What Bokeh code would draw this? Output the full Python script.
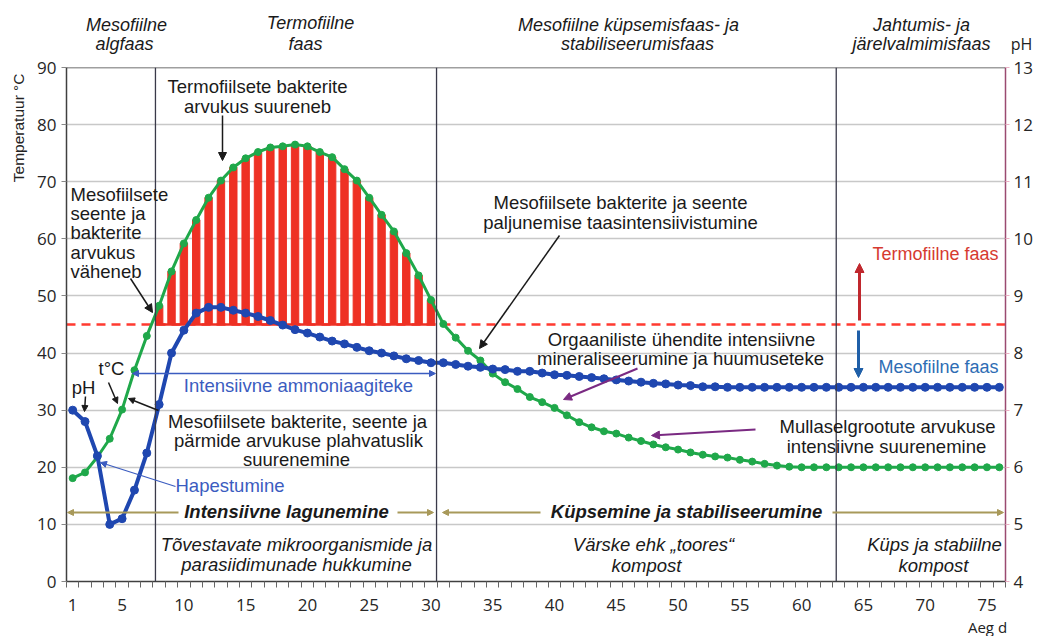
from bokeh.plotting import figure
from bokeh.models import Range1d, LinearAxis, FixedTicker, Label, Arrow, NormalHead, Span
from bokeh.layouts import column, row
from bokeh.core.properties import value
from bokeh.embed import file_html
from bokeh.resources import INLINE
import math

# ---------------- data ----------------
days = list(range(1, 77))
temperature = [18.1, 19.1, 21.8, 25.0, 30.1, 37.0, 43.0, 48.3, 54.3, 59.2,
               63.3, 67.2, 70.2, 72.5, 74.1, 75.2, 76.0, 76.2, 76.5, 76.2,
               75.2, 74.3, 72.2, 70.2, 67.2, 64.2, 61.3, 57.5, 53.6, 49.3,
               45.1, 42.7, 40.4, 38.7, 36.4, 34.9, 33.7, 32.3, 31.4, 30.4,
               29.1, 27.9, 27.0, 26.3, 25.9, 25.2, 24.6, 24.0, 23.5, 23.1,
               22.6, 22.2, 21.9, 21.7, 21.3, 21.0, 20.6, 20.3, 20.1, 20.0,
               20.0, 20.0, 20.0, 20.0, 20.0, 20.0, 20.0, 20.0, 20.0, 20.0,
               20.0, 20.0, 20.0, 20.0, 20.0, 20.0]
ph = [7.0, 6.8, 6.2, 5.0, 5.1, 5.6, 6.25, 7.1, 8.0, 8.4,
      8.7, 8.8, 8.8, 8.75, 8.7, 8.64, 8.57, 8.49, 8.41, 8.35,
      8.28, 8.21, 8.16, 8.10, 8.04, 8.0, 7.95, 7.9, 7.87, 7.83,
      7.83, 7.8, 7.77, 7.75, 7.72, 7.71, 7.68, 7.68, 7.65, 7.62,
      7.61, 7.59, 7.57, 7.55, 7.53, 7.51, 7.49, 7.47, 7.46, 7.44,
      7.43, 7.41, 7.41, 7.4, 7.4, 7.4, 7.4, 7.4, 7.4, 7.4,
      7.4, 7.4, 7.4, 7.4, 7.4, 7.4, 7.4, 7.4, 7.4, 7.4,
      7.4, 7.4, 7.4, 7.4, 7.4, 7.4]
thermo_first_day = 8
thermo_last_day = 30
threshold = 45
phase_bounds = [7.7, 30.45, 62.8]
x_ticks = [1, 5, 10, 15, 20, 25, 30, 35, 40, 45, 50, 55, 60, 65, 70, 75]
temp_ticks = [0, 10, 20, 30, 40, 50, 60, 70, 80, 90]
ph_ticks = [4, 5, 6, 7, 8, 9, 10, 11, 12, 13]

header_texts = ["Mesofiilne", "algfaas", "Termofiilne", "faas",
                "Mesofiilne küpsemisfaas- ja", "stabiliseerumisfaas",
                "Jahtumis- ja", "järelvalmimisfaas"]

bar_days = [d for d in days if thermo_first_day <= d <= thermo_last_day]
bar_tops = [t for d, t in zip(days, temperature) if thermo_first_day <= d <= thermo_last_day]

# ---------------- geometry (page px) ----------------
W = 1040
HEAD_H = 54
MAIN_BOTTOM = 616
TOTAL_H = 636
MAIN_H = MAIN_BOTTOM - HEAD_H
FOOT_H = TOTAL_H - MAIN_BOTTOM
LEFT_W = 34
FL, FR, FT, FB = 66, 1005, 67, 581     # plot frame in page px

def X(xp):
    return 0.5 + (xp - FL) * 76.0 / (FR - FL)
def Y(yp):
    return (FB - yp) * 90.0 / (FB - FT)

TICK_FONT = "Open Sans"
TXT = "Liberation Sans"
INK = "#1a1a1a"

def blank(width, height, x0, x1, y0, y1):
    f = figure(width=width, height=height, x_range=Range1d(x0, x1), y_range=Range1d(y1, y0),
               output_backend="svg", toolbar_location=None,
               min_border_left=0, min_border_right=0, min_border_top=0, min_border_bottom=0)
    f.axis.visible = False
    f.grid.visible = False
    f.outline_line_color = None
    return f

# header strip
head = blank(W, HEAD_H, 0, W, 0, HEAD_H)
head.text(x=[126, 124, 310, 305, 628, 637, 921, 921],
          y=[24, 43, 22, 43, 24, 43, 24, 43],
          text=header_texts, text_font=value(TXT), text_font_size="18px",
          text_font_style="italic", text_color=INK, text_align="center", text_baseline="middle")
head.text(x=[1021], y=[43], text=["pH"], text_font=value(TICK_FONT), text_font_size="16px",
          text_color="#222222", text_align="center", text_baseline="middle")

# left strip with the y-axis title
left = blank(LEFT_W, MAIN_H, 0, LEFT_W, HEAD_H, MAIN_BOTTOM)
left.text(x=[18], y=[120], text=["Temperatuur °C"], text_font=value(TXT), text_font_size="15.5px",
          text_color="#222222", text_align="center", text_baseline="middle", angle=math.pi / 2)

# footer strip
foot = blank(W, FOOT_H, 0, W, MAIN_BOTTOM, TOTAL_H)
foot.text(x=[987], y=[626], text=["Aeg d"], text_font=value(TICK_FONT), text_font_size="15px",
          text_color="#222222", text_align="center", text_baseline="middle")

# ---------------- main chart ----------------
MW = W - LEFT_W
p = figure(width=MW, height=MAIN_H, x_range=Range1d(0.5, 76.5), y_range=Range1d(0, 90),
           output_backend="svg", toolbar_location=None,
           min_border_left=FL - LEFT_W, min_border_right=W - FR,
           min_border_top=FT - HEAD_H, min_border_bottom=MAIN_BOTTOM - FB)
p.extra_y_ranges = {"ph": Range1d(4, 13)}
p.outline_line_color = None

xa = p.xaxis[0]
xa.ticker = FixedTicker(ticks=x_ticks, minor_ticks=[d + 0.5 for d in range(0, 77)])
xa.major_tick_out = 0
xa.major_tick_in = 0
xa.minor_tick_out = 6
xa.minor_tick_in = 0
xa.minor_tick_line_color = "#666666"
xa.axis_line_color = "#404040"
xa.axis_line_width = 1.5
xa.major_label_standoff = 11
xa.major_label_text_font = TICK_FONT
xa.major_label_text_font_size = "17px"
xa.major_label_text_color = "#262626"

ya = p.yaxis[0]
ya.ticker = FixedTicker(ticks=temp_ticks)
ya.minor_tick_line_color = None
ya.major_tick_out = 5
ya.major_tick_in = 0
ya.major_tick_line_color = "#888888"
ya.axis_line_color = "#404040"
ya.axis_line_width = 1.5
ya.major_label_standoff = 5
ya.major_label_text_font = TICK_FONT
ya.major_label_text_font_size = "17px"
ya.major_label_text_color = "#262626"

ra = LinearAxis(y_range_name="ph", ticker=FixedTicker(ticks=ph_ticks))
ra.minor_tick_line_color = None
ra.major_tick_out = 4
ra.major_tick_in = 0
ra.major_tick_line_color = "#eab0c4"
ra.axis_line_color = "#9a4a70"
ra.axis_line_width = 1.5
ra.major_label_standoff = 4
ra.major_label_text_font = TICK_FONT
ra.major_label_text_font_size = "17px"
ra.major_label_text_color = "#262626"
p.add_layout(ra, "right")

p.xgrid.visible = False
p.ygrid.ticker = FixedTicker(ticks=temp_ticks)
p.ygrid.grid_line_color = "#c8c8c8"
p.ygrid.grid_line_width = 1.5

p.add_layout(Span(location=90, dimension="width", line_color="#404040", line_width=1.5))
p.add_layout(Span(location=threshold, dimension="width", line_color="#ff3a30",
                  line_width=2.5, line_dash="9 6", level="underlay"))

p.vbar(x=bar_days, bottom=threshold, top=bar_tops, width=0.6, color="#ee3124")
p.segment(x0=[bar_days[0] - 0.35], x1=[bar_days[-1] + 0.35], y0=[threshold], y1=[threshold],
          line_color="#ee3124", line_width=2.5)

GREEN = "#1fa84a"
BLUE = "#1f47b0"
p.line(days, temperature, line_color=GREEN, line_width=3)
p.scatter(days, temperature, size=7, color=GREEN)
p.line(days, ph, y_range_name="ph", line_color=BLUE, line_width=4)
p.scatter(days, ph, y_range_name="ph", size=8, color=BLUE)

for b in phase_bounds:
    p.add_layout(Span(location=b, dimension="height", line_color="#3a3a4a", line_width=1.3))

def lbl(text, xp, yp, size=18.5, color=INK, style="normal", align="center", font=TXT):
    p.add_layout(Label(x=X(xp), y=Y(yp), text=text, text_font=font,
                       text_font_size=f"{size}px", text_color=color,
                       text_font_style=style, text_align=align, text_baseline="middle"))

def arr(x0, y0, x1, y1, color=INK, width=1.5, size=8, start=False, end=True):
    eh = NormalHead(size=size, fill_color=color, line_color=color, line_width=1) if end else None
    sh = NormalHead(size=size, fill_color=color, line_color=color, line_width=1) if start else None
    p.add_layout(Arrow(x_start=X(x0), y_start=Y(y0), x_end=X(x1), y_end=Y(y1),
                       line_color=color, line_width=width, end=eh, start=sh))

lbl("Termofiilsete bakterite", 257, 86)
lbl("arvukus suureneb", 257, 106)
arr(222, 115, 222, 160)

for i, t in enumerate(["Mesofiilsete", "seente ja", "bakterite", "arvukus", "väheneb"]):
    lbl(t, 70, 194 + i * 19.2, align="left")
arr(130, 278, 152, 312)

lbl("Mesofiilsete bakterite ja seente", 620, 202)
lbl("paljunemise taasintensiivistumine", 620, 222)
arr(559, 235, 479, 348)

lbl("Termofiilne faas", 998, 253, size=18, color="#d63a30", align="right")
arr(859, 320, 859, 263, color="#c0272d", width=3, size=9)
lbl("Mesofiilne faas", 998, 366, size=18, color="#2e6db4", align="right")
arr(858, 330, 858, 377, color="#1f5fa8", width=3, size=9)

lbl("Orgaaniliste ühendite intensiivne", 681, 339)
lbl("mineraliseerumine ja huumuseteke", 680, 358)
PURPLE = "#7a2a82"
arr(637, 368, 563, 399, color=PURPLE, width=2)
lbl("Mullaselgrootute arvukuse", 887, 426)
lbl("intensiivne suurenemine", 886, 446)
arr(755, 429, 651, 435, color=PURPLE, width=2)

lbl("pH", 83, 387)
arr(85, 396, 84, 411, size=6)
lbl("t°C", 111, 368)
arr(108, 382, 117, 403, size=6)

lbl("Mesofiilsete bakterite, seente ja", 297, 421)
lbl("pärmide arvukuse plahvatuslik", 298, 440)
lbl("suurenemine", 296, 459)
arr(158, 410, 128, 398, size=6)

lbl("Intensiivne ammoniaagiteke", 298, 385, color="#3b5cc0")
arr(132, 373, 435, 373, color="#3b5cc0", width=1.5, size=6, start=True)

lbl("Hapestumine", 175, 485, color="#3b5cc0", align="left")
arr(175, 486, 100, 462, color="#3b5cc0", width=1.2, size=6)

OLIVE = "#a8995a"
lbl("Intensiivne lagunemine", 286, 511, style="bold italic")
arr(178, 512, 67, 512, color=OLIVE, width=2, size=6)
arr(397, 512, 433, 512, color=OLIVE, width=2, size=6)
lbl("Küpsemine ja stabiliseerumine", 686, 511, style="bold italic")
arr(540, 512, 442, 512, color=OLIVE, width=2, size=6)
arr(832, 512, 1003, 512, color=OLIVE, width=2, size=6)

lbl("Tõvestavate mikroorganismide ja", 296, 544, style="italic")
lbl("parasiidimunade hukkumine", 296, 564, style="italic")
lbl("Värske ehk „toores“", 653, 544, style="italic")
lbl("kompost", 646, 565, style="italic")
lbl("Küps ja stabiilne", 934, 544, style="italic")
lbl("kompost", 933, 565, style="italic")

layout = column(head, row(left, p), foot)
open("out.html", "w").write(file_html(layout, INLINE))
